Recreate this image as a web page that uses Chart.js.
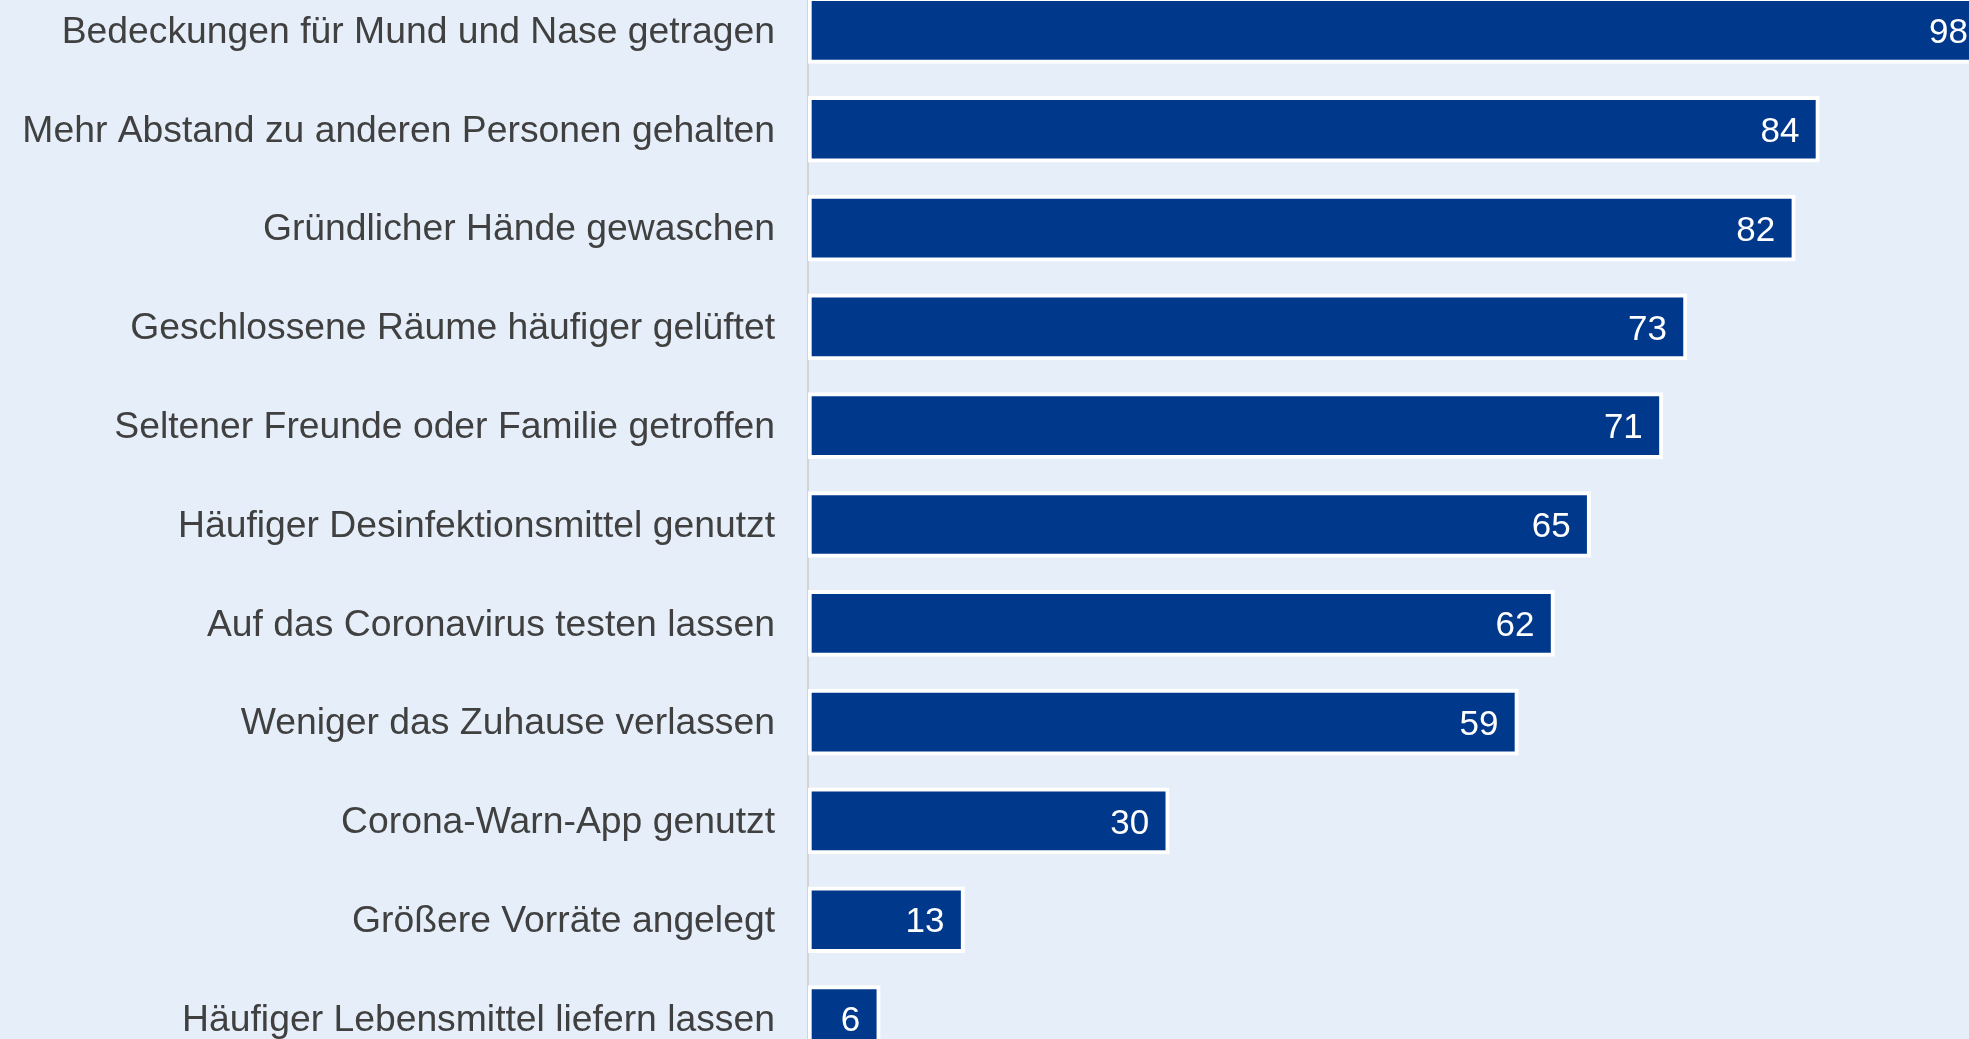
<!DOCTYPE html>
<html>
<head>
<meta charset="utf-8">
<script src="https://cdn.jsdelivr.net/npm/chart.js@4.4.0/dist/chart.umd.min.js"></script>
<style>
  html, body { margin: 0; padding: 0; background: #e6eff9; overflow: hidden; }
  #wrap { position: relative; width: 1969px; height: 1039px; overflow: hidden; background: #e6eff9; }
  #chartCanva { position: absolute; left: 0; top: -19px; width: 2012px; height: 1087px; }
</style>
</head>
<body>
<div id="wrap"><canvas id="chartCanva" width="2012" height="1087"></canvas></div>
<script>
const categories = [
  "Bedeckungen für Mund und Nase getragen",
  "Mehr Abstand zu anderen Personen gehalten",
  "Gründlicher Hände gewaschen",
  "Geschlossene Räume häufiger gelüftet",
  "Seltener Freunde oder Familie getroffen",
  "Häufiger Desinfektionsmittel genutzt",
  "Auf das Coronavirus testen lassen",
  "Weniger das Zuhause verlassen",
  "Corona-Warn-App genutzt",
  "Größere Vorräte angelegt",
  "Häufiger Lebensmittel liefern lassen"
];
const values = [98, 84, 82, 73, 71, 65, 62, 59, 30, 13, 6];

// draws the numbers inside the bar ends
const valueLabels = {
  id: 'valueLabels',
  afterDatasetsDraw(chart) {
    const ctx = chart.ctx;
    const meta = chart.getDatasetMeta(0);
    ctx.save();
    ctx.fillStyle = '#ffffff';
    ctx.font = '35px "Liberation Sans", Arial, sans-serif';
    ctx.textAlign = 'right';
    ctx.textBaseline = 'middle';
    meta.data.forEach((bar, i) => {
      ctx.fillText(String(values[i]), bar.x - 20, bar.y + 3);
    });
    ctx.restore();
  }
};

const config = {
  type: 'bar',
  data: {
    labels: categories,
    datasets: [{
      data: values,
      backgroundColor: '#00388b',
      borderColor: '#ffffff',
      borderWidth: 4,
      borderSkipped: false,
      barThickness: 66
    }]
  },
  options: {
    indexAxis: 'y',
    responsive: false,
    maintainAspectRatio: false,
    animation: false,
    layout: { padding: 0 },
    plugins: {
      legend: { display: false },
      tooltip: { enabled: false },
      title: { display: false }
    },
    scales: {
      x: {
        display: false,
        min: 0,
        max: 100
      },
      y: {
        afterFit: (scale) => {
          scale.width = 808;
          scale.paddingTop = 0;
          scale.paddingBottom = 0;
        },
        grid: { color: 'transparent', drawTicks: false },
        border: { display: true, color: '#d3d3d3', width: 2 },
        ticks: {
          autoSkip: false,
          padding: 33,
          labelOffset: 2,
          color: '#404040',
          font: { family: '"Liberation Sans", Arial, sans-serif', size: 37.3 }
        }
      }
    }
  },
  plugins: [valueLabels]
};

const myChart = new Chart(document.getElementById('chartCanva'), config);
</script>
</body>
</html>
